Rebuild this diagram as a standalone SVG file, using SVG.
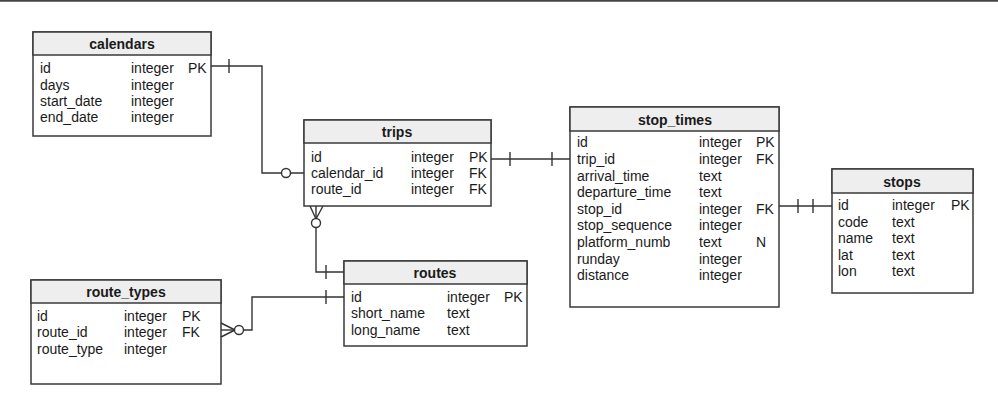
<svg xmlns="http://www.w3.org/2000/svg" width="998" height="416" viewBox="0 0 998 416">
<style>
.box{fill:#fff;stroke:#3a3a3a;stroke-width:1.5}
.hdr{fill:#eeeeee;stroke:#3a3a3a;stroke-width:1.5}
.t{font-family:"Liberation Sans",Arial,sans-serif;font-size:14px;fill:#1a1a1a}
.h{font-family:"Liberation Sans",Arial,sans-serif;font-size:14px;font-weight:bold;fill:#1a1a1a;text-anchor:middle}
.c{fill:none;stroke:#333;stroke-width:1.4}
.o{fill:#fff;stroke:#333;stroke-width:1.4}
</style>
<rect x="0" y="0" width="998" height="416" fill="#fff"/>
<line x1="0" y1="0.8" x2="998" y2="0.8" stroke="#444" stroke-width="2"/>

<g id="calendars">
<rect class="box" x="33" y="32" width="178" height="104"/>
<rect class="hdr" x="33" y="32" width="178" height="23"/>
<text class="h" x="122" y="49">calendars</text>
<text class="t" x="40" y="73">id</text><text class="t" x="131" y="73">integer</text><text class="t" x="188" y="73">PK</text>
<text class="t" x="40" y="90">days</text><text class="t" x="131" y="90">integer</text>
<text class="t" x="40" y="106">start_date</text><text class="t" x="131" y="106">integer</text>
<text class="t" x="40" y="122">end_date</text><text class="t" x="131" y="122">integer</text>
</g>

<g id="trips">
<rect class="box" x="304" y="120" width="187" height="86"/>
<rect class="hdr" x="304" y="120" width="187" height="23"/>
<text class="h" x="397" y="137">trips</text>
<text class="t" x="311" y="162">id</text><text class="t" x="411" y="162">integer</text><text class="t" x="469" y="162">PK</text>
<text class="t" x="311" y="178">calendar_id</text><text class="t" x="411" y="178">integer</text><text class="t" x="469" y="178">FK</text>
<text class="t" x="311" y="194">route_id</text><text class="t" x="411" y="194">integer</text><text class="t" x="469" y="194">FK</text>
</g>

<g id="routes">
<rect class="box" x="344" y="261" width="183" height="85"/>
<rect class="hdr" x="344" y="261" width="183" height="23"/>
<text class="h" x="435" y="278">routes</text>
<text class="t" x="351" y="302">id</text><text class="t" x="447" y="302">integer</text><text class="t" x="504" y="302">PK</text>
<text class="t" x="351" y="318">short_name</text><text class="t" x="447" y="318">text</text>
<text class="t" x="351" y="335">long_name</text><text class="t" x="447" y="335">text</text>
</g>

<g id="route_types">
<rect class="box" x="31" y="280" width="190" height="104"/>
<rect class="hdr" x="31" y="280" width="190" height="23"/>
<text class="h" x="126" y="297">route_types</text>
<text class="t" x="37" y="321">id</text><text class="t" x="124" y="321">integer</text><text class="t" x="182" y="321">PK</text>
<text class="t" x="37" y="337">route_id</text><text class="t" x="124" y="337">integer</text><text class="t" x="182" y="337">FK</text>
<text class="t" x="37" y="354">route_type</text><text class="t" x="124" y="354">integer</text>
</g>

<g id="stop_times">
<rect class="box" x="570" y="107" width="209" height="200"/>
<rect class="hdr" x="570" y="107" width="209" height="24"/>
<text class="h" x="675" y="125">stop_times</text>
<text class="t" x="577" y="147">id</text><text class="t" x="699" y="147">integer</text><text class="t" x="756" y="147">PK</text>
<text class="t" x="577" y="164">trip_id</text><text class="t" x="699" y="164">integer</text><text class="t" x="756" y="164">FK</text>
<text class="t" x="577" y="181">arrival_time</text><text class="t" x="699" y="181">text</text>
<text class="t" x="577" y="197">departure_time</text><text class="t" x="699" y="197">text</text>
<text class="t" x="577" y="214">stop_id</text><text class="t" x="699" y="214">integer</text><text class="t" x="756" y="214">FK</text>
<text class="t" x="577" y="230">stop_sequence</text><text class="t" x="699" y="230">integer</text>
<text class="t" x="577" y="247">platform_numb</text><text class="t" x="699" y="247">text</text><text class="t" x="756" y="247">N</text>
<text class="t" x="577" y="264">runday</text><text class="t" x="699" y="264">integer</text>
<text class="t" x="577" y="280">distance</text><text class="t" x="699" y="280">integer</text>
</g>

<g id="stops">
<rect class="box" x="832" y="169" width="141" height="124"/>
<rect class="hdr" x="832" y="169" width="141" height="24"/>
<text class="h" x="902" y="187">stops</text>
<text class="t" x="838" y="210">id</text><text class="t" x="892" y="210">integer</text><text class="t" x="951" y="210">PK</text>
<text class="t" x="838" y="227">code</text><text class="t" x="892" y="227">text</text>
<text class="t" x="838" y="243">name</text><text class="t" x="892" y="243">text</text>
<text class="t" x="838" y="260">lat</text><text class="t" x="892" y="260">text</text>
<text class="t" x="838" y="276">lon</text><text class="t" x="892" y="276">text</text>
</g>

<g id="connectors">
<!-- calendars.id -> trips.calendar_id -->
<polyline class="c" points="211,66 262,66 262,173 304,173"/>
<line class="c" x1="229" y1="59" x2="229" y2="73"/>
<circle class="o" cx="286" cy="173" r="4.5"/>
<!-- trips.id -> stop_times.trip_id -->
<line class="c" x1="491" y1="159" x2="570" y2="159"/>
<line class="c" x1="510" y1="152" x2="510" y2="166"/>
<line class="c" x1="552" y1="152" x2="552" y2="166"/>
<!-- trips -> routes -->
<polyline class="c" points="316,227 316,272 344,272"/>
<line class="c" x1="310" y1="206" x2="316" y2="219"/>
<line class="c" x1="323" y1="206" x2="316" y2="219"/>
<line class="c" x1="316" y1="206" x2="316" y2="219"/>
<circle class="o" cx="316" cy="223" r="4.5"/>
<line class="c" x1="326" y1="265" x2="326" y2="279"/>
<!-- route_types -> routes.id -->
<polyline class="c" points="243,330 252,330 252,297 344,297"/>
<line class="c" x1="221" y1="323" x2="235" y2="330"/>
<line class="c" x1="221" y1="337" x2="235" y2="330"/>
<line class="c" x1="221" y1="330" x2="235" y2="330"/>
<circle class="o" cx="239" cy="330" r="4.5"/>
<line class="c" x1="326" y1="290" x2="326" y2="304"/>
<!-- stop_times.stop_id -> stops.id -->
<line class="c" x1="779" y1="206" x2="832" y2="206"/>
<line class="c" x1="798" y1="199" x2="798" y2="213"/>
<line class="c" x1="813" y1="199" x2="813" y2="213"/>
</g>
</svg>
